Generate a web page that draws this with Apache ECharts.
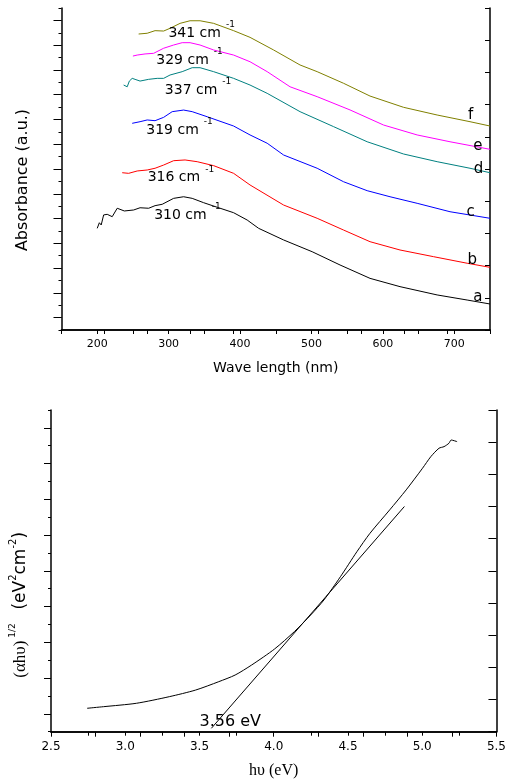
<!DOCTYPE html>
<html>
<head>
<meta charset="utf-8">
<script src="https://cdn.jsdelivr.net/npm/echarts@6/dist/echarts.min.js"></script>
<style>html,body{margin:0;padding:0;background:#fff}#c{width:509px;height:782px}</style>
</head>
<body>
<div id="c"></div>
<script>
// ---- Top chart: absorbance spectra (arbitrary units, offset curves) ----
const wlA = [200,203,205.6,209,214,221,228,238,251,260,272,281,291,307,321,333,349,368,391,410,426,461,501,540,582,624,676,718,750];
const absA = [8.21,8.66,8.48,9.29,9.34,9.15,9.83,9.61,9.69,9.87,9.83,10.04,10.15,10.63,10.76,10.63,10.28,9.91,9.47,8.88,8.21,7.27,6.32,5.25,4.17,3.50,2.83,2.42,2.10];
const wlB = [235,244,256,270,281,293,307,323,340,363,391,414,461,508,545,582,624,671,718,750];
const absB = [12.70,12.65,12.84,12.92,13.06,13.32,13.67,13.73,13.59,13.27,12.65,11.71,10.09,9.02,8.07,7.13,6.46,5.92,5.39,5.06];
const wlC = [249,260,270,281,293,305,321,333,354,391,414,438,461,508,545,578,610,648,694,750];
const absC = [16.69,16.82,16.96,16.90,17.17,17.63,17.76,17.63,17.22,16.47,15.75,15.08,14.13,13.06,11.97,11.25,10.76,10.23,9.55,9.02];
const wlD = [237,242,245,249,253,260,272,284,293,302,319,333,344,363,391,414,438,484,531,578,629,676,722,750];
const absD = [19.78,19.64,20.10,20.32,20.24,20.10,20.24,20.32,20.32,20.59,20.86,21.18,21.18,20.86,20.32,19.78,19.11,17.63,16.42,15.20,14.21,13.59,13.06,12.70];
const wlE = [250,256,267,279,293,307,319,330,344,363,391,414,438,470,508,554,601,648,694,750];
const absE = [22.12,22.20,22.29,22.34,22.75,23.01,23.20,23.20,23.01,22.61,22.20,21.66,20.86,19.64,18.84,17.77,16.55,15.75,15.20,14.59];
const wlF = [258,270,281,293,302,316,330,344,363,391,414,447,484,508,545,582,629,676,722,750];
const absF = [23.90,23.96,24.17,24.14,24.36,24.76,24.97,24.97,24.76,24.17,23.63,22.61,21.40,20.86,19.92,18.89,17.98,17.36,16.82,16.47];

const curveNames = ['a','b','c','d','e','f'];
const curveColors = ['#000000','#ff0000','#0000ff','#008080','#ff00ff','#808000'];

// peak annotations (text + anchor in data coords)
const peakText = ['310 cm','316 cm','319 cm','337 cm','329 cm','341 cm'];
const peakAnchorX = [279,270,268,294,282,299];
const peakAnchorY = [9.29,12.30,16.15,19.38,21.80,23.98];
// curve letter annotations
const letterAnchorX = [733,725,723,734,733,723];
const letterAnchorY = [2.69,5.65,9.55,13.0,14.86,17.36];

const wlTickLabels = [200,300,400,500,600,700];

// ---- Bottom chart: Tauc plot ----
const hv = [2.743,2.854,3.075,3.297,3.474,3.630,3.740,3.851,4.006,4.139,4.249,4.338,4.449,4.560,4.648,4.781,4.892,5.002,5.058,5.113,5.147,5.180,5.195,5.235];
const ahv = [1.31,1.40,1.59,1.96,2.33,2.80,3.17,3.73,4.63,5.60,6.53,7.37,8.67,10.07,11.10,12.41,13.53,14.74,15.39,15.86,15.95,16.14,16.32,16.23];
const fitHv = [3.58, 4.88];
const fitY = [0.19, 12.6];
const gapText = '3.56 eV';
const gapAnchor = [3.497, 0.56];

const oddTicksTop = []; for (let i = 1; i <= 25; i += 2) oddTicksTop.push(i);
const oddTicksBot = []; for (let i = 1; i <= 17; i += 2) oddTicksBot.push(i);

const F = 'DejaVu Sans';
const axLine = {show: true, lineStyle: {color: '#000', width: 1.5}};
const zip = (xs, ys) => xs.map((x, i) => [x, ys[i]]);
const hidden = {color: 'rgba(0,0,0,0)'};

const spectra = [[wlA,absA],[wlB,absB],[wlC,absC],[wlD,absD],[wlE,absE],[wlF,absF]];

const series = spectra.map((s, i) => ({
  type: 'line', name: curveNames[i], xAxisIndex: 0, yAxisIndex: 0,
  data: zip(s[0], s[1]), showSymbol: false, symbol: 'none',
  lineStyle: {color: curveColors[i], width: 1}, silent: true, z: 3
}));

series.push({
  type: 'scatter', xAxisIndex: 0, yAxisIndex: 0, symbolSize: 1, itemStyle: hidden, silent: true, z: 5,
  data: peakText.map((t, i) => ({value: [peakAnchorX[i], peakAnchorY[i]], name: t})),
  label: {
    show: true, position: 'right', distance: 0, opacity: 1, textBorderWidth: 0, color: '#000',
    formatter: p => '{a|' + p.name + '}{b|-1}',
    rich: {
      a: {fontFamily: F, fontSize: 14, color: '#000', lineHeight: 26, verticalAlign: 'middle', textBorderWidth: 0},
      b: {fontFamily: F, fontSize: 9, color: '#000', lineHeight: 10, verticalAlign: 'top', padding: [0,0,0,5], textBorderWidth: 0}
    }
  }
});
series.push({
  type: 'scatter', xAxisIndex: 0, yAxisIndex: 0, symbolSize: 1, itemStyle: hidden, silent: true, z: 5,
  data: curveNames.map((t, i) => ({value: [letterAnchorX[i], letterAnchorY[i]], name: t})),
  label: {show: true, position: 'inside', formatter: p => p.name, fontFamily: F, fontSize: 15,
          color: '#000', opacity: 1, textBorderWidth: 0}
});

series.push({
  type: 'line', xAxisIndex: 2, yAxisIndex: 3, data: zip(hv, ahv), showSymbol: false, symbol: 'none',
  smooth: 0.25, lineStyle: {color: '#000', width: 1}, silent: true
});
series.push({
  type: 'line', xAxisIndex: 2, yAxisIndex: 3, data: zip(fitHv, fitY), showSymbol: false, symbol: 'none',
  lineStyle: {color: '#000', width: 1}, silent: true
});
series.push({
  type: 'scatter', xAxisIndex: 2, yAxisIndex: 3, symbolSize: 1, itemStyle: hidden, silent: true, z: 5,
  data: [{value: gapAnchor, name: gapText}],
  label: {show: true, position: 'right', distance: 0, formatter: p => p.name, fontFamily: F, fontSize: 16,
          color: '#000', opacity: 1, textBorderWidth: 0}
});

const option = {
  animation: false,
  backgroundColor: '#fff',
  grid: [
    {left: 61.5, top: 8, width: 428.5, height: 322},
    {left: 46.7, top: 410, width: 451.6, height: 321.7}
  ],
  xAxis: [
    {gridIndex: 0, type: 'value', position: 'bottom', min: 150, max: 750, interval: 50,
     axisLine: axLine, splitLine: {show: false},
     axisTick: {show: true, inside: false, length: 4, lineStyle: {color: '#000', width: 1}},
     axisLabel: {margin: 9, fontFamily: F, fontSize: 11, color: '#000',
       formatter: v => wlTickLabels.indexOf(Math.round(v)) >= 0 ? String(Math.round(v)) : ''},
     name: 'Wave length (nm)', nameLocation: 'middle', nameGap: 31,
     nameTextStyle: {fontFamily: F, fontSize: 14, color: '#000'}},
    {gridIndex: 0, type: 'value', position: 'top', min: 0, max: 10, interval: 1,
     axisLine: axLine, splitLine: {show: false},
     axisTick: {show: true, inside: true, length: 4, lineStyle: {color: '#000', width: 1}},
     axisLabel: {show: false}},
    {gridIndex: 1, type: 'value', position: 'bottom', min: 2.5, max: 5.5, interval: 0.25,
     axisLine: axLine, splitLine: {show: false},
     axisTick: {show: true, inside: false, length: 4, lineStyle: {color: '#000', width: 1}},
     axisLabel: {margin: 9, fontFamily: F, fontSize: 12, color: '#000',
       formatter: v => Math.abs(v * 2 - Math.round(v * 2)) < 1e-6 ? v.toFixed(1) : ''},
     name: 'h\u03c5 (eV)', nameLocation: 'middle', nameGap: 31,
     nameTextStyle: {fontFamily: 'Liberation Serif', fontSize: 16, color: '#000'}},
    {gridIndex: 1, type: 'value', position: 'top', min: 0, max: 10, interval: 1,
     axisLine: axLine, splitLine: {show: false},
     axisTick: {show: true, inside: true, length: 5, lineStyle: {color: '#000', width: 1}},
     axisLabel: {show: false}}
  ],
  yAxis: [
    {gridIndex: 0, type: 'value', position: 'left', min: 0, max: 26, interval: 1,
     axisLine: axLine, splitLine: {show: false},
     axisTick: {show: true, inside: false, length: 3, lineStyle: {color: '#000', width: 1}},
     axisLabel: {show: false},
     name: 'Absorbance (a.u.)', nameLocation: 'middle', nameGap: 31, nameRotate: 90,
     nameTextStyle: {fontFamily: F, fontSize: 16, color: '#000', padding: [0, 22, 0, 0]}},
    {gridIndex: 0, type: 'value', position: 'left', min: 0, max: 26,
     axisLine: {show: false}, splitLine: {show: false},
     axisTick: {show: true, inside: false, length: 8, customValues: oddTicksTop, lineStyle: {color: '#000', width: 1}},
     axisLabel: {show: false}},
    {gridIndex: 0, type: 'value', position: 'right', min: 0, max: 10, interval: 1,
     axisLine: axLine, splitLine: {show: false},
     axisTick: {show: true, inside: true, length: 5, lineStyle: {color: '#000', width: 1}},
     axisLabel: {show: false}},
    {gridIndex: 1, type: 'value', position: 'left', min: 0, max: 18, interval: 1,
     axisLine: axLine, splitLine: {show: false},
     axisTick: {show: true, inside: false, length: 3, lineStyle: {color: '#000', width: 1}},
     axisLabel: {show: false},
     name: '{p|(\u03b1h\u03c5)}{s| 1/2 }{q|  (eV}{t|2}{q|cm}{t|-2}{q|)}',
     nameLocation: 'middle', nameGap: 17, nameRotate: 90,
     nameTextStyle: {color: '#000', padding: [0, 68, 0, 0],
       rich: {
         p: {fontFamily: 'Liberation Serif', fontSize: 17, color: '#000', lineHeight: 26, verticalAlign: 'middle'},
         s: {fontFamily: F, fontSize: 9, color: '#000', lineHeight: 10, verticalAlign: 'top'},
         q: {fontFamily: F, fontSize: 17, color: '#000', lineHeight: 26, verticalAlign: 'middle'},
         t: {fontFamily: F, fontSize: 10, color: '#000', lineHeight: 10, verticalAlign: 'top'}
       }}},
    {gridIndex: 1, type: 'value', position: 'left', min: 0, max: 18,
     axisLine: {show: false}, splitLine: {show: false},
     axisTick: {show: true, inside: false, length: 7, customValues: oddTicksBot, lineStyle: {color: '#000', width: 1}},
     axisLabel: {show: false}},
    {gridIndex: 1, type: 'value', position: 'right', min: 0, max: 10, interval: 1,
     axisLine: axLine, splitLine: {show: false},
     axisTick: {show: true, inside: true, length: 8, lineStyle: {color: '#000', width: 1}},
     axisLabel: {show: false}}
  ],
  series: series
};

const chart = echarts.init(document.getElementById('c'), null, {renderer: 'canvas'});
chart.setOption(option);
</script>
</body>
</html>
